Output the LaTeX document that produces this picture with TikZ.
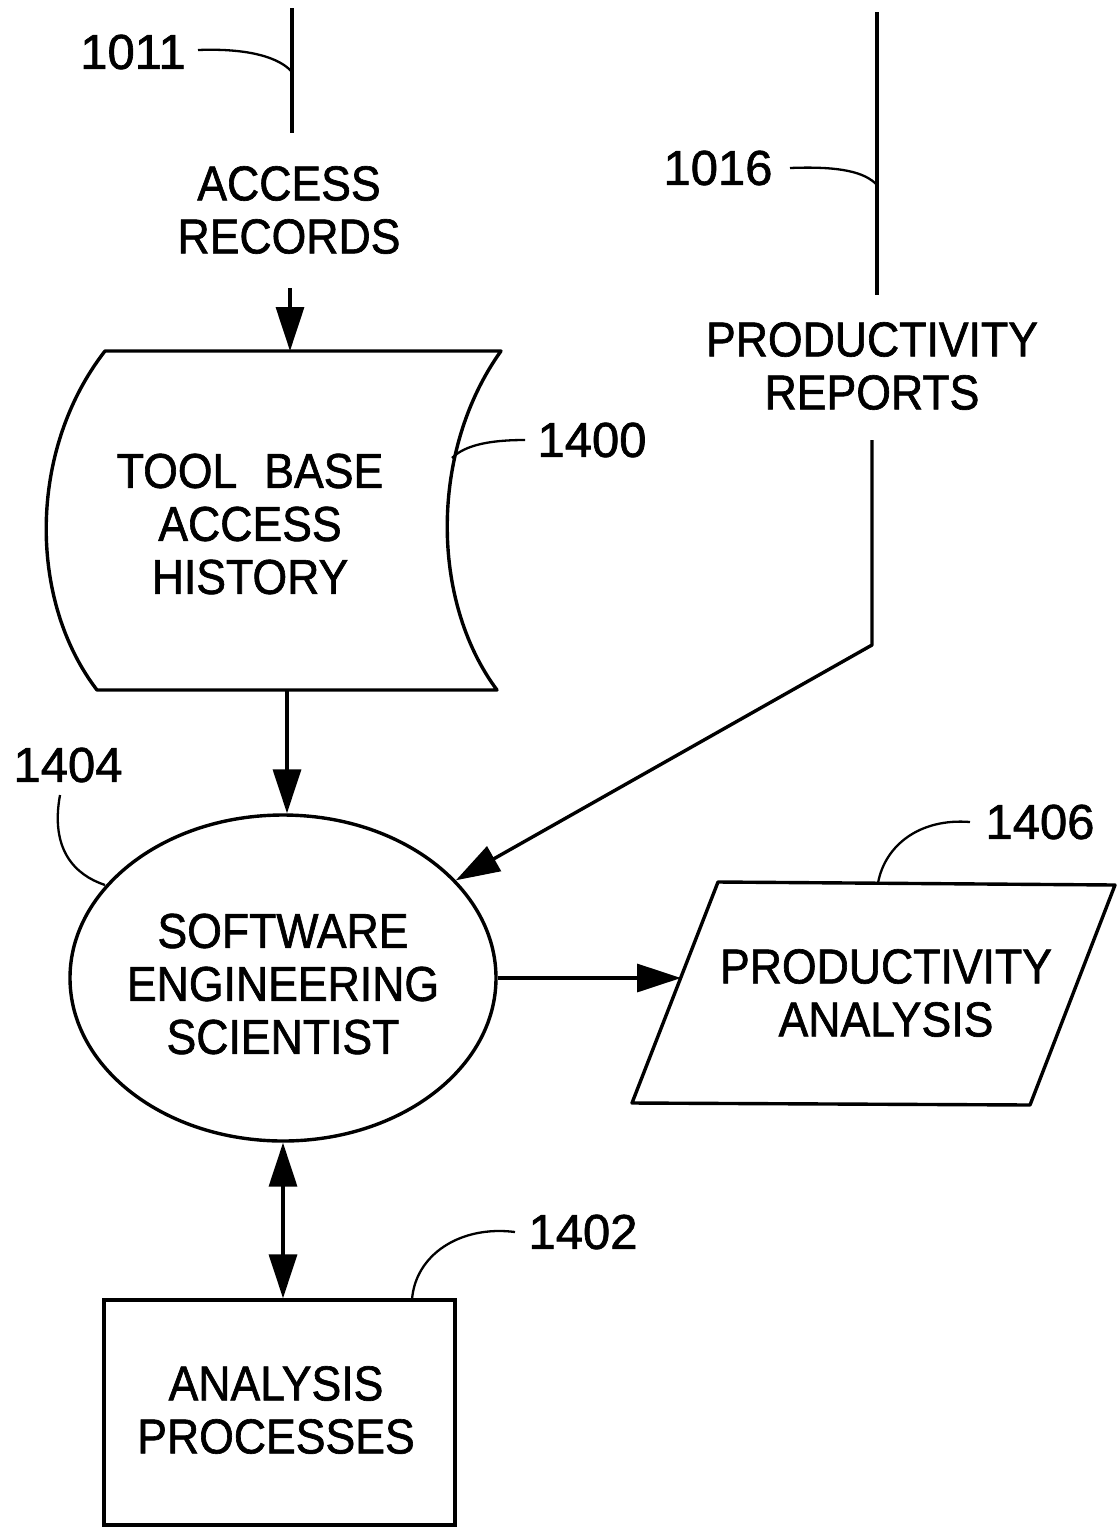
\documentclass[tikz,border=0pt]{standalone}
\usepackage{fontspec}
\setmainfont{Liberation Sans}[FakeStretch=0.91,FakeBold=1.3]
\newfontfamily\numfont{Liberation Sans}[FakeBold=1.3]
\usetikzlibrary{arrows.meta,shapes.geometric}
\begin{document}
\begin{tikzpicture}[x=1pt,y=-1pt,line width=3.4pt,
  txt/.style={font=\fontsize{49}{53}\selectfont,align=center,inner sep=0pt},
  num/.style={font=\numfont\fontsize{49}{53}\selectfont,inner sep=0pt},
  arr/.style={-{Triangle[length=44pt,width=28pt]}},
  darr/.style={{Triangle[length=44pt,width=28pt]}-{Triangle[length=44pt,width=28pt]}},
  lead/.style={line width=2.3pt}]
\useasboundingbox (0,0) rectangle (1118,1527);

% ---- inputs ----
\coordinate (in1top) at (292,8);
\coordinate (in1bot) at (292,133);
\node[num] (n1011) at (133,52) {1011};
\node[txt] (acc) at (289,210) {ACCESS\\RECORDS};
\coordinate (accbot) at (290,288);
\draw (in1top) -- (in1bot);
\coordinate (l1011a) at (198,50);
\coordinate (l1011b) at (292,72);
\draw[lead] (l1011a) .. controls (250,48) and (280,58) .. (l1011b);

\coordinate (in2top) at (877,12);
\coordinate (in2bot) at (877,295);
\node[num] (n1016) at (718,168) {1016};
\draw (in2top) -- (in2bot);
\coordinate (l1016a) at (790,168);
\coordinate (l1016b) at (877,185);
\draw[lead] (l1016a) .. controls (840,166) and (865,172) .. (l1016b);
\node[txt] (prep) at (872,366) {PRODUCTIVITY\\REPORTS};
\coordinate (prbot) at (872,440);
\coordinate (bend) at (872,645);

% ---- tool base access history (document shape) ----
\coordinate (doctl) at (105,351);
\coordinate (doctr) at (501,351);
\coordinate (docbr) at (497,690);
\coordinate (docbl) at (97,690);
\draw[line join=round] (doctl) -- (doctr)
  .. controls (430,450) and (430,600) .. (docbr)
  -- (docbl)
  .. controls (28,600) and (28,450) .. (doctl) -- cycle;
\node[txt] (tbah) at (250,524) {TOOL\hspace{0.55em}BASE\\ACCESS\\HISTORY};
\coordinate (doctop) at (290,351);
\coordinate (docbot) at (287,690);
\node[num] (n1400) at (592,440) {1400};
\coordinate (l1400a) at (452,458);
\coordinate (l1400b) at (525,440);
\draw[lead] (l1400a) .. controls (465,445) and (490,440) .. (l1400b);

% ---- software engineering scientist ----
\node[draw,ellipse,minimum width=426pt,minimum height=326pt,inner sep=0pt] (ses) at (283,978) {};
\node[txt] (sest) at (283,984) {SOFTWARE\\ENGINEERING\\SCIENTIST};
\node[num] (n1404) at (68,765) {1404};
\coordinate (l1404a) at (60,795);
\coordinate (l1404b) at (105,885);
\draw[lead] (l1404a) .. controls (50,850) and (75,875) .. (l1404b);

% ---- productivity analysis (parallelogram) ----
\coordinate (patl) at (718,882);
\coordinate (patr) at (1115,885);
\coordinate (pabr) at (1030,1105);
\coordinate (pabl) at (632,1103);
\draw[line join=round] (patl) -- (patr) -- (pabr) -- (pabl) -- cycle;
\node[txt] (pa) at (886,993) {PRODUCTIVITY\\ANALYSIS};
\coordinate (paw) at (681,978);
\node[num] (n1406) at (1040,822) {1406};
\coordinate (l1406a) at (970,822);
\coordinate (l1406b) at (878,883);
\draw[lead] (l1406a) .. controls (920,818) and (885,845) .. (l1406b);

% ---- analysis processes ----
\node[draw,minimum width=351pt,minimum height=225pt,inner sep=0pt] (apbox) at (279.5,1412.5) {};
\node[txt] (ap) at (276,1410) {ANALYSIS\\PROCESSES};
\node[num] (n1402) at (583,1232) {1402};
\coordinate (l1402a) at (515,1232);
\coordinate (l1402b) at (412,1300);
\draw[lead] (l1402a) .. controls (460,1225) and (415,1255) .. (l1402b);

% ---- connectors ----
\draw[arr] (accbot) -- (doctop);
\draw[arr] (docbot) -- (docbot |- ses.north);
\draw[arr,line join=round] (prbot) -- (bend) -- (ses);
\draw[arr] (ses.east) -- (paw);
\draw[darr] (ses.south) -- (ses.south |- apbox.north);
\end{tikzpicture}
\end{document}
